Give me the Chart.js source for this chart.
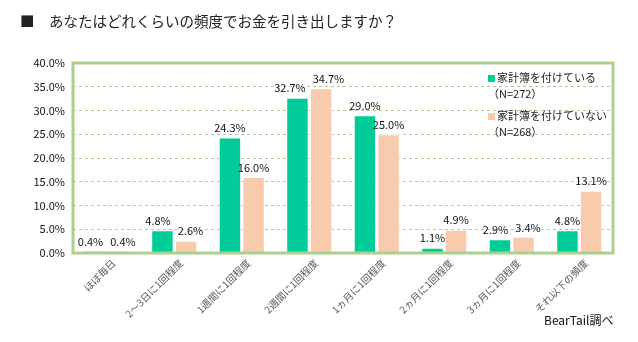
<!DOCTYPE html>
<html>
<head>
<meta charset="utf-8">
<script src="https://cdn.jsdelivr.net/npm/chart.js@4"></script>
<style>
  body { margin: 0; background: #fff; }
  #wrap { position: relative; width: 638px; height: 342px; }
  #title { position: absolute; left: 20px; top: 10px; font: 14.5px "Noto Sans CJK JP", sans-serif; color: #222; white-space: pre; }
  #credit { position: absolute; left: 544px; top: 311px; font: 12px "Noto Sans CJK JP", sans-serif; color: #111; }
  #legend { position: absolute; left: 488px; top: 69px; font: 11px "Noto Sans CJK JP", sans-serif; color: #222; line-height: 16px; }
  #legend .sw { display: inline-block; width: 7px; height: 7px; margin-right: 2px; }
</style>
</head>
<body>
<div id="wrap">
  <canvas id="chart" width="638" height="342"></canvas>
  <div id="title">■　あなたはどれくらいの頻度でお金を引き出しますか？</div>
  <div id="legend"></div>
  <div id="credit">BearTail調べ</div>
</div>
<script>
const categories = ['ほぼ毎日', '2～3日に1回程度', '1週間に1回程度', '2週間に1回程度', '1ヵ月に1回程度', '2ヵ月に1回程度', '3ヵ月に1回程度', 'それ以下の頻度'];
const seriesNames = ['家計簿を付けている', '家計簿を付けていない'];
const seriesN = ['（N=272）', '（N=268）'];
const withBook = [0.4, 4.8, 24.3, 32.7, 29.0, 1.1, 2.9, 4.8];
const withoutBook = [0.4, 2.6, 16.0, 34.7, 25.0, 4.9, 3.4, 13.1];
const colors = ['#00CC99', '#F8CBAD'];
const frameColor = '#A9D08E';

// legend in html
const legendEl = document.getElementById('legend');
seriesNames.forEach(function (name, i) {
    const d = document.createElement('div');
    d.style.marginBottom = i === 0 ? '6px' : '0';
    d.innerHTML = '<span class="sw" style="background:' + colors[i] + '"></span>' + name + '<br>' + seriesN[i];
    legendEl.appendChild(d);
});

const framePlugin = {
    id: 'frame',
    afterDraw(chart) {
        const a = chart.chartArea;
        const ctx = chart.ctx;
        ctx.save();
        ctx.strokeStyle = frameColor;
        ctx.lineWidth = 3;
        ctx.strokeRect(a.left, a.top, a.right - a.left, a.bottom - a.top);
        ctx.restore();
    }
};

const valueLabels = {
    id: 'valueLabels',
    afterDatasetsDraw(chart) {
        const ctx = chart.ctx;
        ctx.save();
        ctx.font = '11px "Noto Sans CJK JP", sans-serif';
        ctx.fillStyle = '#111';
        ctx.textBaseline = 'bottom';
        ctx.textAlign = 'center';
        const m0 = chart.getDatasetMeta(0).data;
        const m1 = chart.getDatasetMeta(1).data;
        for (let i = 0; i < categories.length; i++) {
            const t0 = withBook[i].toFixed(1) + '%';
            const t1 = withoutBook[i].toFixed(1) + '%';
            let x0 = m0[i].x, x1 = m1[i].x;
            const y0 = m0[i].y - 4, y1 = m1[i].y - 4;
            const w0 = ctx.measureText(t0).width, w1 = ctx.measureText(t1).width;
            // push labels apart when they collide at similar heights
            const overlap = (x0 + w0 / 2 + 7) - (x1 - w1 / 2);
            if (overlap > 0 && Math.abs(y0 - y1) < 13) {
                x0 -= overlap / 2;
                x1 += overlap / 2;
            }
            ctx.fillText(t0, x0, y0);
            ctx.fillText(t1, x1, y1);
        }
        ctx.restore();
    }
};

new Chart(document.getElementById('chart'), {
    type: 'bar',
    data: {
        labels: categories,
        datasets: [
            { label: seriesNames[0], data: withBook, backgroundColor: colors[0], borderColor: '#fff', borderWidth: 1 },
            { label: seriesNames[1], data: withoutBook, backgroundColor: colors[1], borderColor: '#fff', borderWidth: 1 }
        ]
    },
    options: {
        responsive: false,
        animation: false,
        layout: { padding: { top: 63, right: 25, left: 0, bottom: 0 } },
        datasets: { bar: { categoryPercentage: 0.7, barPercentage: 0.95 } },
        plugins: { legend: { display: false }, tooltip: { enabled: false } },
        scales: {
            x: {
                afterFit(scale) { scale.height = 89; },
                grid: { display: false },
                border: { display: false },
                ticks: {
                    minRotation: 45, maxRotation: 45,
                    color: '#595959',
                    font: { size: 10, family: '"Noto Sans CJK JP", sans-serif' },
                    padding: -4,
                    labelOffset: 7
                }
            },
            y: {
                min: 0, max: 40,
                afterFit(scale) { scale.width = 73; },
                border: { display: false, dash: [3, 3] },
                grid: { color: frameColor, drawTicks: false, lineWidth: 1 },
                ticks: {
                    stepSize: 5,
                    padding: 8,
                    color: '#111',
                    font: { size: 11, family: '"Noto Sans CJK JP", sans-serif' },
                    callback: function (v) { return v.toFixed(1) + '%'; }
                }
            }
        }
    },
    plugins: [framePlugin, valueLabels]
});
</script>
</body>
</html>
